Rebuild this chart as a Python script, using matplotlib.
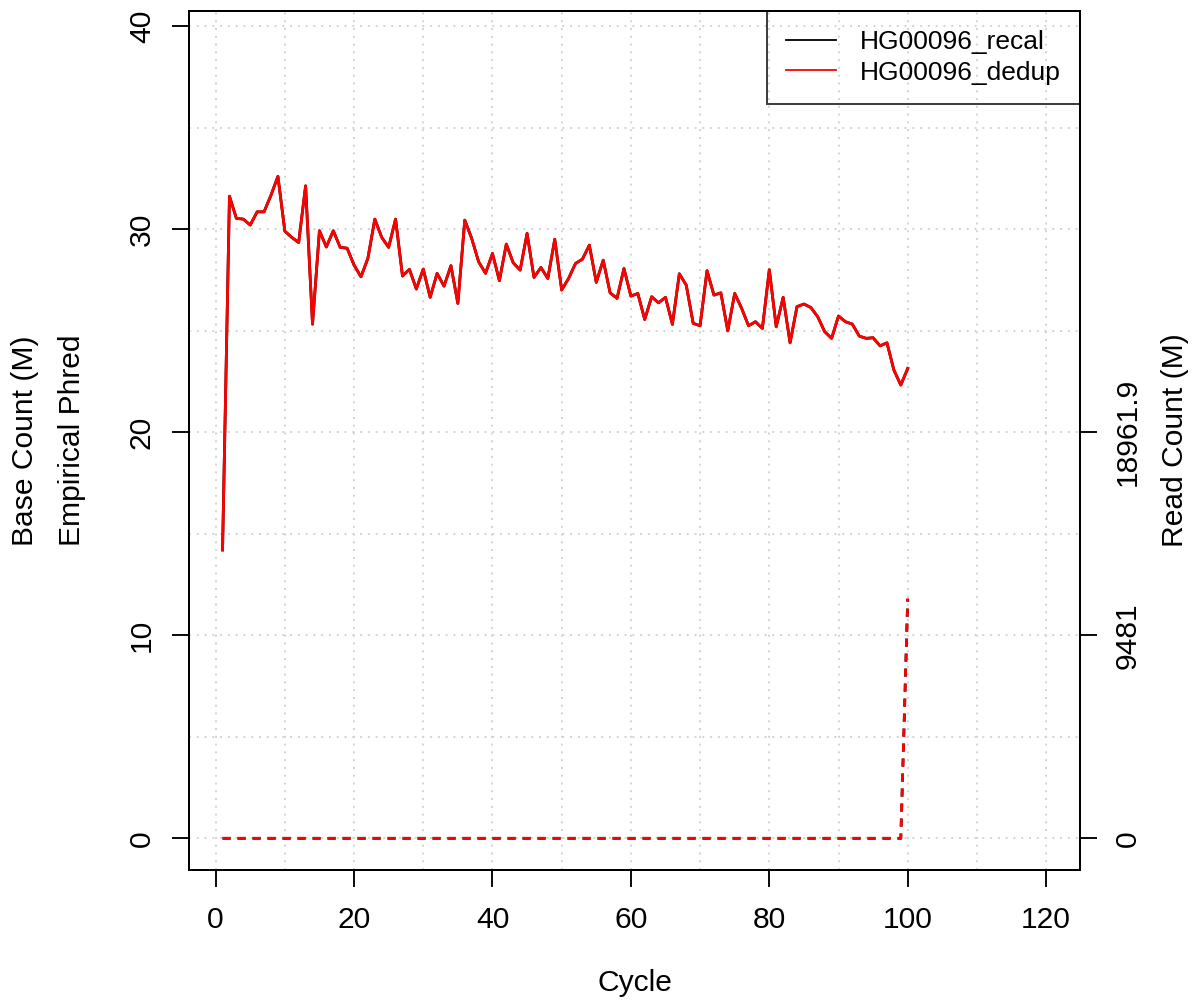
import numpy as np
import matplotlib.pyplot as plt
from matplotlib.lines import Line2D

plt.rcParams['font.family'] = ['Liberation Sans', 'DejaVu Sans']
plt.rcParams['font.size'] = 21.6

# cycles and empirical phred per cycle (recal and dedup overlap exactly)
cycles = np.arange(1, 101)
phred_dedup = [14.2, 31.62, 30.53, 30.49, 30.2, 30.85, 30.85, 31.67, 32.6, 29.9,
               29.59, 29.34, 32.13, 25.32, 29.92, 29.12, 29.92, 29.1, 29.06, 28.23,
               27.65, 28.56, 30.49, 29.59, 29.1, 30.49, 27.69, 28.02, 27.05, 28.03,
               26.64, 27.82, 27.19, 28.2, 26.34, 30.44, 29.54, 28.39, 27.82, 28.8,
               27.46, 29.26, 28.34, 27.98, 29.79, 27.62, 28.11, 27.57, 29.5, 27.0,
               27.57, 28.31, 28.52, 29.21, 27.38, 28.47, 26.86, 26.59, 28.06, 26.7,
               26.83, 25.55, 26.67, 26.37, 26.64, 25.31, 27.8, 27.24, 25.36, 25.24,
               27.95, 26.75, 26.86, 24.99, 26.83, 26.1, 25.24, 25.44, 25.11, 28.0,
               25.19, 26.64, 24.4, 26.18, 26.31, 26.14, 25.68, 24.95, 24.62, 25.72,
               25.44, 25.32, 24.73, 24.62, 24.65, 24.25, 24.4, 23.06, 22.32, 23.14]
phred_recal = list(phred_dedup)

# read counts (right axis units)
reads_dedup = [0.0] * 99 + [11188.0]
reads_recal = list(reads_dedup)

samples = ['HG00096_recal', 'HG00096_dedup']
colors = ['black', 'red']
right_ticks = [0, 9481, 18961.9]
right_labels = ['0', '9481', '18961.9']
read_scale = 948.1  # read count per phred unit on the left axis

fig = plt.figure(figsize=(11.99, 10), dpi=100)
ax = fig.add_axes([0.1579, 0.13, 0.7429, 0.859])

# dotted grid like R grid()
for gx in range(0, 121, 10):
    ax.axvline(gx, color='#d3d3d3', linestyle=(0, (1, 3)), linewidth=1.4, zorder=0)
for gy in range(0, 41, 5):
    ax.axhline(gy, color='#d3d3d3', linestyle=(0, (1, 3)), linewidth=1.4, zorder=0)

ax.plot(cycles, phred_recal, color=colors[0], linewidth=2.0)
ax.plot(cycles, phred_dedup, color=colors[1], linewidth=2.0)

ylim = (-1.56, 40.74)
ax.set_xlim(-3.8, 124.9)
ax.set_ylim(*ylim)
ax.set_xticks(range(0, 121, 20))
ax.set_yticks(range(0, 41, 10))
ax.tick_params(axis='x', length=12, width=1.35, pad=14)
ax.tick_params(axis='y', length=12, width=1.35, pad=12)
for t in ax.get_yticklabels():
    t.set_rotation(90)
    t.set_va('center')
for s in ax.spines.values():
    s.set_linewidth(1.35)

ax2 = ax.twinx()
ax2.plot(cycles, reads_recal, color=colors[0], linewidth=2.0, linestyle=(0, (2.9, 2.5)))
ax2.plot(cycles, reads_dedup, color=colors[1], linewidth=2.0, linestyle=(0, (2.9, 2.5)))
ax2.set_ylim(ylim[0] * read_scale, ylim[1] * read_scale)
ax2.set_yticks(right_ticks)
ax2.set_yticklabels(right_labels)
ax2.tick_params(axis='y', length=12, width=1.35, pad=12)
for t in ax2.get_yticklabels():
    t.set_rotation(90)
    t.set_va('center')
for s in ax2.spines.values():
    s.set_linewidth(1.35)

handles = [Line2D([], [], color=c, linewidth=1.3) for c in colors]
leg = ax2.legend(handles, samples, loc='upper right', borderaxespad=0,
                 frameon=True, fancybox=False, facecolor='none', edgecolor='black',
                 fontsize=19, handlelength=1.89, handletextpad=0.91,
                 labelspacing=0.25, borderpad=0.72)
leg.get_frame().set_linewidth(1.35)

fig.text(0.5292, 0.017, 'Cycle', ha='center', va='center')
fig.text(0.060, 0.5595, 'Empirical Phred', ha='center', va='center', rotation=90)
fig.text(0.021, 0.5595, 'Base Count (M)', ha='center', va='center', rotation=90)
fig.text(0.980, 0.5595, 'Read Count (M)', ha='center', va='center', rotation=90)

plt.savefig('out.png', dpi=100)
